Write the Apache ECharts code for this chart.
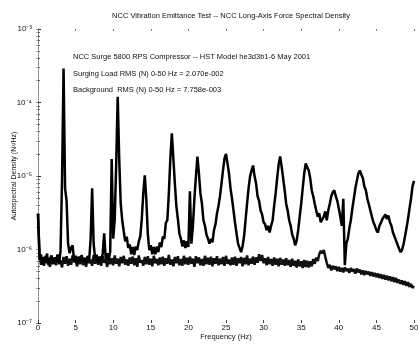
<!DOCTYPE html>
<html>
<head>
<meta charset="utf-8">
<script src="https://cdn.jsdelivr.net/npm/echarts@6.0.0/dist/echarts.min.js"></script>
<style>
  html, body { margin: 0; padding: 0; background: #fff; }
  #chart { width: 418px; height: 344px; }
</style>
</head>
<body>
<div id="chart"></div>
<script>
// spectrum sampled every 0.2 Hz from 0 to 50 Hz
const FREQ_STEP = 0.2;
const xTicks = [0, 5, 10, 15, 20, 25, 30, 35, 40, 45, 50];
const yDecades = [1e-7, 1e-6, 1e-5, 1e-4, 1e-3];

// surging load, N^2/Hz
const surging = [
  3.1e-6, 7.3e-7, 8.6e-7, 6.2e-7, 7.9e-7, 6.8e-7, 8.8e-7, 6.1e-7, 7.5e-7, 8.3e-7,
  6.4e-7, 7.8e-7, 6.9e-7, 8.5e-7, 6.3e-7, 9.8e-7, 9.3e-6, 2.9e-4, 6.8e-6, 4.6e-6,
  1.2e-6, 8.9e-7, 1.05e-6, 1.14e-6, 7.1e-7, 8.2e-7, 6.5e-7, 8.0e-7, 6.7e-7, 8.4e-7,
  6.9e-7, 7.7e-7, 6.3e-7, 8.1e-7, 7.0e-7, 1.4e-6, 6.8e-6, 1.2e-6, 7.4e-7, 8.5e-7,
  6.6e-7, 8.0e-7, 7.1e-7, 8.7e-7, 1.66e-6, 7.5e-7, 8.9e-7, 7.2e-7, 9.3e-7, 1.7e-5,
  1.4e-6, 2.5e-6, 1.48e-5, 1.2e-4, 1.7e-5, 4.2e-6, 2.5e-6, 1.77e-6, 1.29e-6, 1.5e-6,
  1.05e-6, 1.17e-6, 8.6e-7, 1.08e-6, 8.4e-7, 1.1e-6, 9.8e-7, 1.29e-6, 1.5e-6, 2.6e-6,
  5.8e-6, 1.02e-5, 4.9e-6, 1.66e-6, 9.8e-7, 1.14e-6, 8.6e-7, 1.08e-6, 8.6e-7, 1.1e-6,
  9.2e-7, 1.25e-6, 1.08e-6, 1.5e-6, 1.4e-6, 2.3e-6, 2.5e-6, 5.8e-6, 1.73e-5, 3.8e-5,
  1.73e-5, 7.9e-6, 3.9e-6, 2.6e-6, 1.66e-6, 1.4e-6, 1.1e-6, 1.33e-6, 1.05e-6, 1.29e-6,
  1.08e-6, 6.2e-6, 1.2e-6, 2.1e-6, 4.9e-6, 9.9e-6, 1.84e-5, 1.08e-5, 5.8e-6, 4.2e-6,
  2.5e-6, 2.1e-6, 1.6e-6, 1.4e-6, 1.2e-6, 1.4e-6, 1.25e-6, 1.83e-6, 2.2e-6, 3.1e-6,
  3.9e-6, 5.3e-6, 7.9e-6, 1.19e-5, 1.73e-5, 2.0e-5, 1.48e-5, 1.08e-5, 6.8e-6, 4.9e-6,
  3.4e-6, 2.3e-6, 1.66e-6, 1.2e-6, 1.05e-6, 9.2e-7, 1.1e-6, 1.5e-6, 2.5e-6, 4.2e-6,
  6.8e-6, 9.9e-6, 1.19e-5, 1.39e-5, 9.9e-6, 7.9e-6, 5.3e-6, 4.6e-6, 3.4e-6, 3.0e-6,
  2.35e-6, 2.2e-6, 1.83e-6, 2.1e-6, 1.7e-6, 2.1e-6, 2.5e-6, 3.9e-6, 5.8e-6, 9.3e-6,
  1.43e-5, 1.84e-5, 1.34e-5, 9.3e-6, 6.4e-6, 4.2e-6, 3.4e-6, 2.5e-6, 2.1e-6, 1.6e-6,
  1.4e-6, 1.14e-6, 1.33e-6, 1.83e-6, 2.8e-6, 4.2e-6, 6.8e-6, 1.08e-5, 1.48e-5, 1.57e-5,
  1.19e-5, 9.3e-6, 6.4e-6, 5.3e-6, 4.2e-6, 3.4e-6, 2.8e-6, 3.1e-6, 2.35e-6, 2.5e-6,
  2.8e-6, 3.3e-6, 2.5e-6, 3.4e-6, 4.2e-6, 5.3e-6, 6.0e-6, 6.4e-6, 5.3e-6, 4.6e-6,
  3.6e-6, 2.8e-6, 2.1e-6, 4.9e-6, 6.1e-7, 1.2e-6, 1.4e-6, 1.94e-6, 2.5e-6, 3.6e-6,
  4.9e-6, 6.8e-6, 8.6e-6, 1.08e-5, 1.19e-5, 1.05e-5, 9.3e-6, 7.2e-6, 6.4e-6, 4.9e-6,
  4.1e-6, 3.4e-6, 2.8e-6, 2.35e-6, 2.1e-6, 1.83e-6, 1.7e-6, 2.1e-6, 2.3e-6, 2.6e-6,
  2.5e-6, 3.0e-6, 2.6e-6, 2.9e-6, 2.35e-6, 2.1e-6, 1.7e-6, 1.6e-6, 1.33e-6, 1.17e-6,
  1.1e-6, 9.2e-7, 9.8e-7, 1.17e-6, 1.5e-6, 1.94e-6, 2.6e-6, 3.6e-6, 4.9e-6, 7.2e-6,
  8.6e-6
];

// background, N^2/Hz
const background = [
  3.0e-6, 9.0e-7, 6.2e-7, 7.8e-7, 6.0e-7, 8.2e-7, 6.5e-7, 7.4e-7, 5.8e-7, 8.0e-7,
  6.3e-7, 7.7e-7, 6.1e-7, 8.5e-7, 6.6e-7, 7.1e-7, 5.7e-7, 7.9e-7, 6.4e-7, 8.1e-7,
  6.0e-7, 7.5e-7, 6.2e-7, 8.3e-7, 6.7e-7, 7.2e-7, 5.9e-7, 7.8e-7, 6.3e-7, 8.0e-7,
  6.1e-7, 7.6e-7, 5.8e-7, 8.2e-7, 6.5e-7, 7.3e-7, 6.0e-7, 8.4e-7, 6.4e-7, 7.7e-7,
  6.2e-7, 7.9e-7, 6.0e-7, 8.1e-7, 6.6e-7, 7.4e-7, 5.8e-7, 8.0e-7, 6.3e-7, 7.6e-7,
  6.1e-7, 8.3e-7, 6.4e-7, 7.5e-7, 5.9e-7, 7.9e-7, 6.5e-7, 8.2e-7, 6.2e-7, 7.3e-7,
  6.0e-7, 7.8e-7, 6.4e-7, 8.0e-7, 6.1e-7, 7.6e-7, 5.8e-7, 8.3e-7, 6.6e-7, 7.2e-7,
  6.0e-7, 7.9e-7, 6.3e-7, 8.1e-7, 6.2e-7, 7.5e-7, 5.9e-7, 8.2e-7, 6.5e-7, 7.4e-7,
  6.1e-7, 7.8e-7, 6.3e-7, 8.0e-7, 6.0e-7, 7.6e-7, 6.4e-7, 8.4e-7, 6.2e-7, 7.3e-7,
  5.9e-7, 7.9e-7, 6.5e-7, 8.1e-7, 6.1e-7, 7.4e-7, 6.0e-7, 8.2e-7, 6.3e-7, 7.7e-7,
  6.2e-7, 8.0e-7, 6.4e-7, 7.5e-7, 5.8e-7, 8.1e-7, 6.5e-7, 7.8e-7, 6.1e-7, 7.4e-7,
  6.0e-7, 8.2e-7, 6.3e-7, 7.7e-7, 6.2e-7, 8.0e-7, 5.9e-7, 7.6e-7, 6.4e-7, 8.1e-7,
  6.1e-7, 7.5e-7, 6.3e-7, 7.9e-7, 6.0e-7, 8.2e-7, 6.4e-7, 7.3e-7, 6.1e-7, 7.8e-7,
  6.2e-7, 8.0e-7, 6.0e-7, 7.6e-7, 6.5e-7, 7.9e-7, 5.9e-7, 7.7e-7, 6.3e-7, 8.3e-7,
  6.1e-7, 7.5e-7, 6.4e-7, 8.0e-7, 6.2e-7, 7.8e-7, 6.6e-7, 8.6e-7, 7.0e-7, 8.4e-7,
  6.5e-7, 7.6e-7, 6.1e-7, 7.9e-7, 6.3e-7, 7.4e-7, 6.0e-7, 7.8e-7, 6.2e-7, 7.5e-7,
  5.9e-7, 7.7e-7, 6.2e-7, 7.3e-7, 6.0e-7, 7.6e-7, 6.1e-7, 7.2e-7, 5.8e-7, 7.5e-7,
  6.0e-7, 7.0e-7, 5.7e-7, 7.3e-7, 5.9e-7, 6.9e-7, 5.6e-7, 7.2e-7, 5.8e-7, 7.0e-7,
  5.7e-7, 6.9e-7, 5.9e-7, 7.4e-7, 6.4e-7, 7.8e-7, 7.0e-7, 8.6e-7, 9.6e-7, 8.9e-7,
  9.8e-7, 8.0e-7, 6.6e-7, 5.6e-7, 6.2e-7, 5.2e-7, 6.0e-7, 5.4e-7, 5.9e-7, 5.1e-7,
  5.8e-7, 5.0e-7, 5.6e-7, 4.9e-7, 5.7e-7, 5.1e-7, 5.5e-7, 4.8e-7, 5.6e-7, 5.0e-7,
  5.4e-7, 4.7e-7, 5.5e-7, 4.9e-7, 5.3e-7, 4.6e-7, 5.2e-7, 4.5e-7, 5.1e-7, 4.6e-7,
  5.0e-7, 4.4e-7, 4.9e-7, 4.3e-7, 4.8e-7, 4.2e-7, 4.7e-7, 4.1e-7, 4.6e-7, 4.0e-7,
  4.5e-7, 3.9e-7, 4.4e-7, 3.8e-7, 4.3e-7, 3.7e-7, 4.2e-7, 3.6e-7, 4.1e-7, 3.5e-7,
  3.9e-7, 3.4e-7, 3.8e-7, 3.3e-7, 3.7e-7, 3.2e-7, 3.6e-7, 3.1e-7, 3.4e-7, 3.0e-7,
  3.2e-7
];

const notes = [
  "NCC Surge 5800 RPS Compressor -- HST Model he3d3b1-6 May 2001",
  "Surging Load RMS (N) 0-50 Hz = 2.070e-002",
  "Background  RMS (N) 0-50 Hz = 7.758e-003"
];

const font = "'Liberation Sans', Arial, sans-serif";
const sup = { "-": "\u207B", "0": "\u2070", "1": "\u00B9", "2": "\u00B2", "3": "\u00B3",
  "4": "\u2074", "5": "\u2075", "6": "\u2076", "7": "\u2077", "8": "\u2078", "9": "\u2079" };

const toPairs = (vals) => vals.map((v, i) => [+(i * FREQ_STEP).toFixed(1), v]);

const chart = echarts.init(document.getElementById("chart"));
chart.setOption({
  animation: false,
  backgroundColor: "#fff",
  textStyle: { fontFamily: font, color: "#111" },
  title: {
    text: "NCC Vibration Emittance Test -- NCC Long-Axis Force Spectral Density",
    left: 226, top: 7, textAlign: "center",
    textStyle: { fontSize: 7.5, fontWeight: "normal", color: "#111", fontFamily: font }
  },
  grid: { left: 38, right: 4, top: 29, bottom: 21, outerBoundsMode: "none", containLabel: false },
  xAxis: [
    {
      type: "value", min: xTicks[0], max: xTicks[xTicks.length - 1], interval: 5,
      name: "Frequency (Hz)", nameLocation: "middle", nameGap: 10, nameMoveOverlap: false,
      nameTextStyle: { fontSize: 7.5, color: "#111" },
      axisLine: { show: false },
      axisTick: { show: true, inside: true, length: 3, lineStyle: { color: "#444" } },
      axisLabel: { fontSize: 8, color: "#111", margin: 1 },
      splitLine: { show: false }
    },
    {
      type: "value", position: "top", min: xTicks[0], max: xTicks[xTicks.length - 1], interval: 5,
      axisLine: { show: false },
      axisTick: { show: true, inside: true, length: 2, lineStyle: { color: "#777" } },
      axisLabel: { show: false },
      splitLine: { show: false }
    }
  ],
  yAxis: [
    {
      type: "log", logBase: 10, min: yDecades[0], max: yDecades[yDecades.length - 1],
      name: "Autospectral Density (N\u00B2/Hz)", nameLocation: "middle", nameGap: 20, nameMoveOverlap: false,
      nameTextStyle: { fontSize: 7, color: "#111" },
      axisLine: { show: true, lineStyle: { color: "#222", width: 1 } },
      axisTick: { show: true, inside: true, length: 3, lineStyle: { color: "#333" } },
      minorTick: { show: true, splitNumber: 9, length: 2, lineStyle: { color: "#666" } },
      axisLabel: {
        fontSize: 8, color: "#111", margin: 6,
        formatter: (v) => "10" + String(Math.round(Math.log10(v))).split("").map(c => sup[c]).join("")
      },
      splitLine: { show: false }
    },
    {
      type: "log", logBase: 10, min: yDecades[0], max: yDecades[yDecades.length - 1],
      position: "right",
      axisLine: { show: true, lineStyle: { color: "#aaa", width: 1, type: "dotted" } },
      axisTick: { show: true, inside: true, length: 2, lineStyle: { color: "#888" } },
      minorTick: { show: true, splitNumber: 9, length: 2, lineStyle: { color: "#aaa" } },
      axisLabel: { show: false },
      splitLine: { show: false }
    }
  ],
  graphic: notes.map((t, i) => ({
    type: "text", left: 73, top: [53, 70, 86][i],
    style: { text: t, fontSize: 7.5, fill: "#111", fontFamily: font }
  })),
  series: [
    {
      name: "Background", type: "line", data: toPairs(background),
      showSymbol: false, clip: true,
      lineStyle: { color: "#111", width: 2.5 }
    },
    {
      name: "Surging", type: "line", data: toPairs(surging),
      showSymbol: false, clip: true,
      lineStyle: { color: "#000", width: 2.5 }
    }
  ]
});
</script>
</body>
</html>
